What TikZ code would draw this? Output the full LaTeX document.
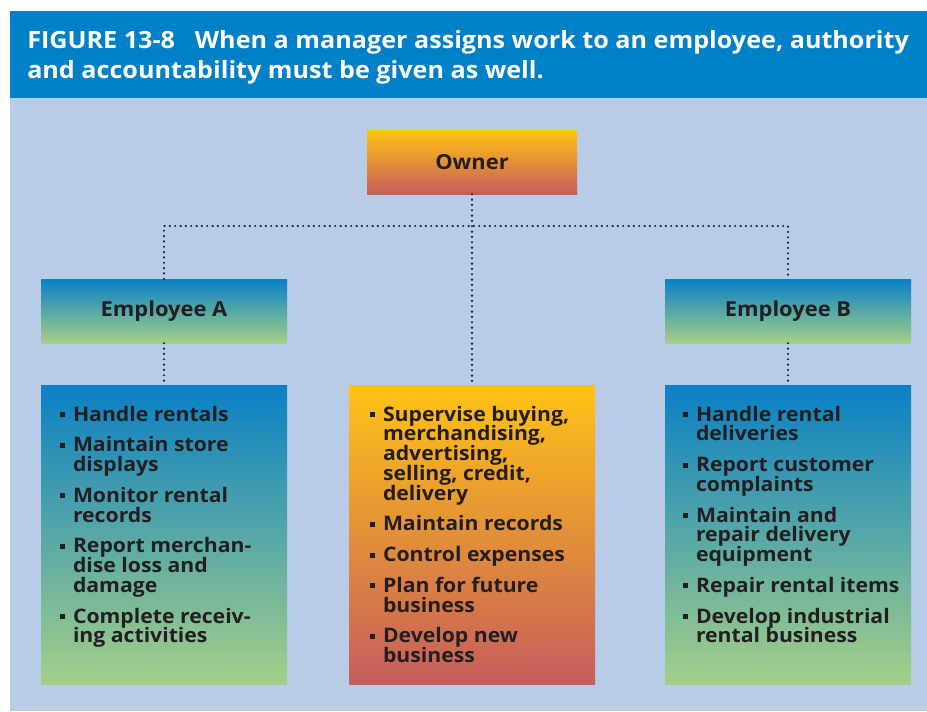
\documentclass[tikz,border=0pt]{standalone}
\usepackage{fontspec}
\setmainfont{Open Sans}[FakeStretch=1.06]
\usepackage{xcolor}
\usetikzlibrary{positioning}

\definecolor{hdrblue}{HTML}{0080C6}
\definecolor{bgblue}{HTML}{B8CCE8}
\definecolor{empTop}{HTML}{0A80C5}
\definecolor{empBot}{HTML}{A4CF88}
\definecolor{ownTop}{HTML}{FFC316}
\definecolor{ownBot}{HTML}{C65D5C}
\definecolor{ink}{HTML}{231F20}

\newcommand\bul{\makebox[9.75pt][l]{\rule[3pt]{3.75pt}{3.75pt}}}
\newcommand\ind{\hspace*{9.75pt}}
\newcommand\tightlines{\setlength\lineskiplimit{-10pt}\setlength\lineskip{0pt}}

\tikzset{
    bluebox/.style={minimum width=184.5pt, inner sep=0pt, top color=empTop, bottom color=empBot},
    goldbox/.style={inner sep=0pt, top color=ownTop, bottom color=ownBot},
    label/.style={text=ink, font=\fontsize{15.5}{17}\selectfont\bfseries},
    listtext/.style={anchor=north west, inner sep=0pt, align=left, text=ink,
        font=\fontsize{15}{14.8}\selectfont\bfseries\tightlines},
    dots/.style={line width=1.8pt, line cap=round, dash pattern=on 0pt off 4pt, ink}
}

\begin{document}
\begin{tikzpicture}[x=0.75pt, y=-0.75pt]
    \useasboundingbox (0,0) rectangle (927,711);
    \fill[bgblue] (10,11) rectangle (927,711);
    \fill[hdrblue] (10,11) rectangle (927,98);
    \node[anchor=base west, inner sep=0pt, align=left, text=white,
          font=\fontsize{17.8}{22.5}\selectfont\bfseries] (title) at (27,78)
        {FIGURE 13-8\hspace{10pt} When a manager assigns work to an employee, authority\\
         and accountability must be given as well.};

    % boxes
    \node[goldbox, minimum width=157.5pt, minimum height=48pt] (owner) at (472,162) {};
    \node[bluebox, minimum height=48pt] (empA) at (164,311) {};
    \node[bluebox, minimum height=48pt] (empB) at (788,311) {};
    \node[bluebox, minimum height=224.25pt] (dutyA) at (164,534.5) {};
    \node[goldbox, minimum width=184.5pt, minimum height=224.25pt] (dutyO) at (472,534.5) {};
    \node[bluebox, minimum height=224.25pt] (dutyB) at (788,534.5) {};

    \node[label] at (owner) {Owner};
    \node[label] at (empA) {Employee A};
    \node[label] at (empB) {Employee B};

    % connectors
    \coordinate (hub) at (472,226);
    \draw[dots] (owner.south) -- (dutyO.north);
    \draw[dots] (empA.north) |- (hub) -| (empB.north);
    \draw[dots] (empA.south) -- (dutyA.north);
    \draw[dots] (empB.south) -- (dutyB.north);

    % duties
    \node[listtext] (listA) at ([shift={(19,21)}]dutyA.north west)
        {\bul Handle rentals\\[8.25pt]
         \bul Maintain store\\ \ind displays\\[8.25pt]
         \bul Monitor rental\\ \ind records\\[8.25pt]
         \bul Report merchan-\\ \ind dise loss and\\ \ind damage\\[8.25pt]
         \bul Complete receiv-\\ \ind ing activities};
    \node[listtext] (listO) at ([shift={(21,21)}]dutyO.north west)
        {\bul Supervise buying,\\ \ind merchandising,\\ \ind advertising,\\ \ind selling, credit,\\ \ind delivery\\[8.25pt]
         \bul Maintain records\\[8.25pt]
         \bul Control expenses\\[8.25pt]
         \bul Plan for future\\ \ind business\\[8.25pt]
         \bul Develop new\\ \ind business};
    \node[listtext] (listB) at ([shift={(18,21)}]dutyB.north west)
        {\bul Handle rental\\ \ind deliveries\\[8.25pt]
         \bul Report customer\\ \ind complaints\\[8.25pt]
         \bul Maintain and\\ \ind repair delivery\\ \ind equipment\\[8.25pt]
         \bul Repair rental items\\[8.25pt]
         \bul Develop industrial\\ \ind rental business};
\end{tikzpicture}
\end{document}
